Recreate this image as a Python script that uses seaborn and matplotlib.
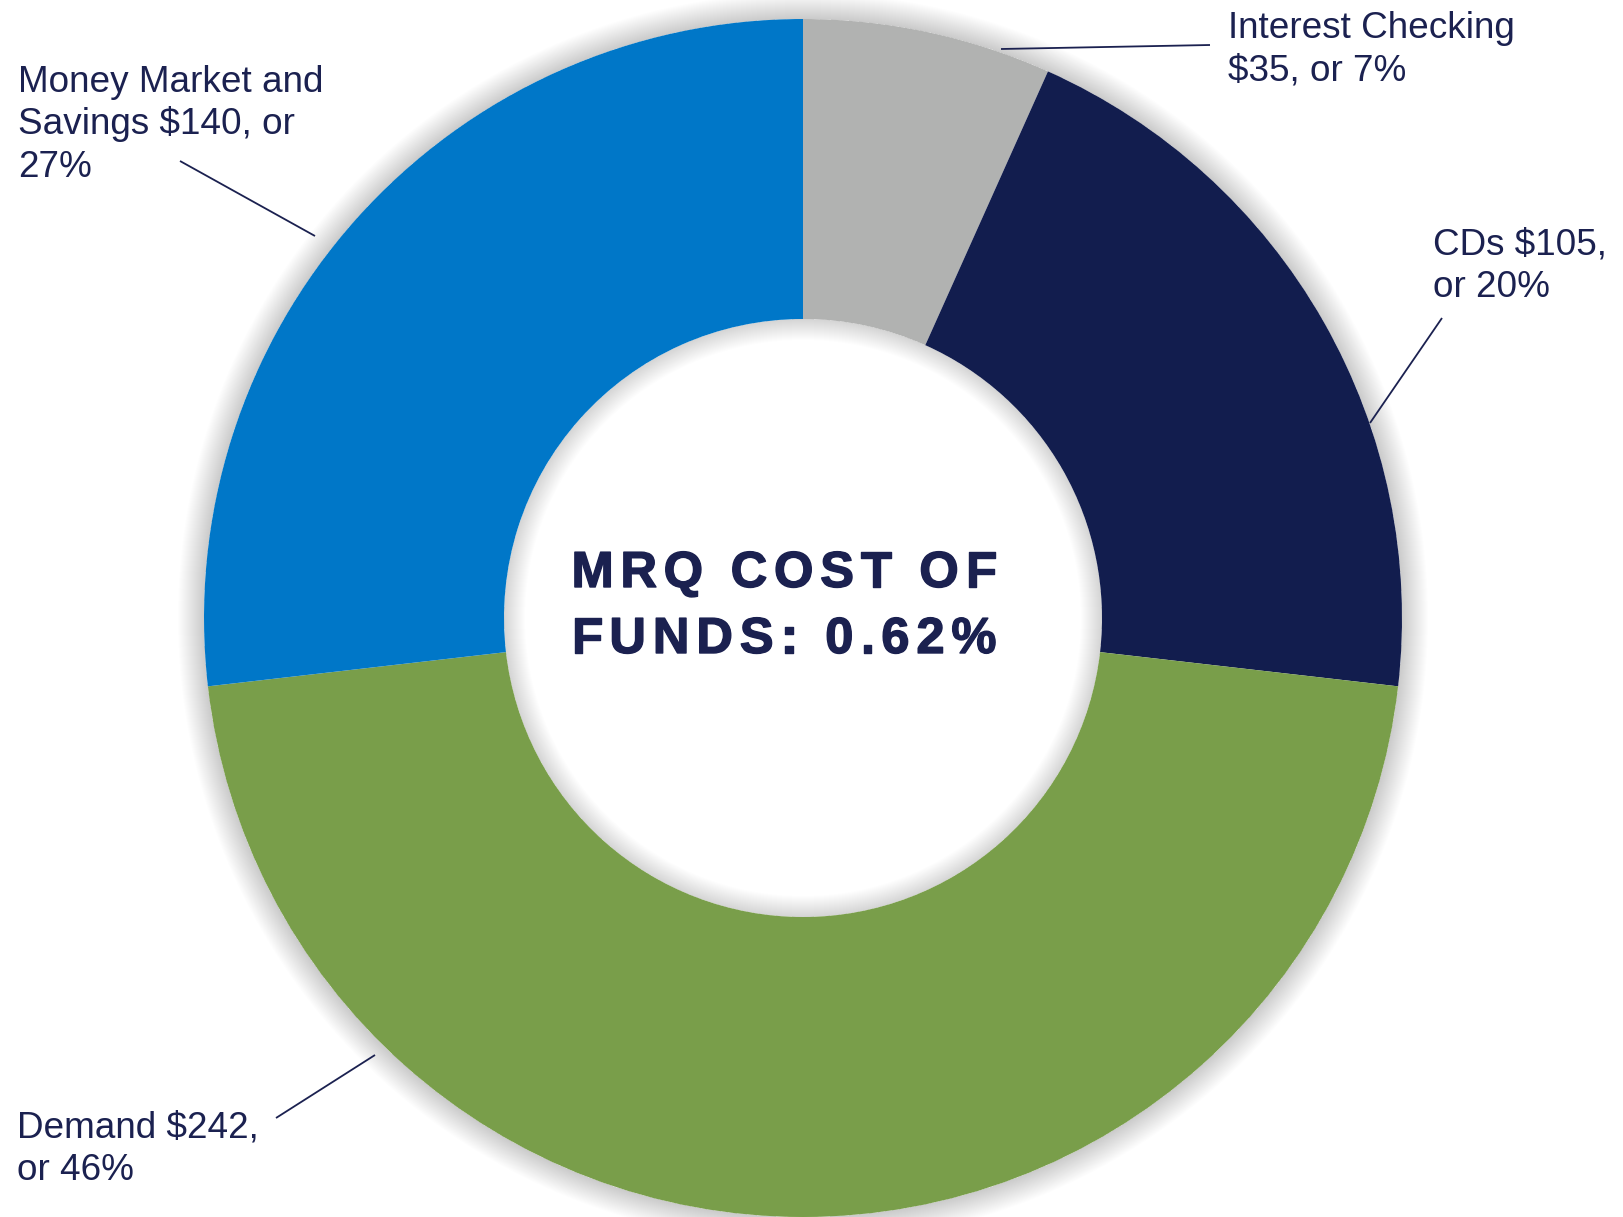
import matplotlib
matplotlib.use("Agg")
import matplotlib.pyplot as plt
import seaborn as sns
from matplotlib.patches import Wedge
from matplotlib.font_manager import FontProperties
import matplotlib.patheffects as pe

# ---- data ----
categories = ["Interest Checking", "CDs", "Demand", "Money Market and Savings"]
values = [35, 105, 242, 140]
percents = [7, 20, 46, 27]
label_lines = [
    ["Interest Checking", "$35, or 7%"],
    ["CDs $105,", "or 20%"],
    ["Demand $242,", "or 46%"],
    ["Money Market and", "Savings $140, or", "27%"],
]
slice_colors = ["#B1B2B1", "#121D4E", "#799E4A", "#0077C8"]
center_lines = ["MRQ COST OF", "FUNDS: 0.62%"]

# ---- style ----
sns.set_theme(style="white")
plt.rcParams["font.family"] = ["Liberation Sans", "DejaVu Sans"]
palette = sns.color_palette(slice_colors)
TEXT = "#1B2150"

W, H = 1624, 1217
fig = plt.figure(figsize=(W / 100, H / 100), dpi=100)
ax = fig.add_axes([0, 0, 1, 1])

def py(y):  # pixel-from-top -> data y
    return H - y

cx, cy = 803, py(618)
R, RIN = 599, 299

# soft shadow around ring
for k in range(1, 27):
    ax.add_patch(Wedge((cx, cy), R + k, 0, 360, width=k, facecolor="black",
                       edgecolor="none", alpha=0.009, zorder=0))
for k in range(1, 22):
    ax.add_patch(Wedge((cx, cy), RIN, 0, 360, width=k, facecolor="black",
                       edgecolor="none", alpha=0.006, zorder=0))

wedges, _ = ax.pie(values, colors=palette, startangle=90, counterclock=False,
                   radius=R, center=(cx, cy),
                   wedgeprops=dict(width=R - RIN, edgecolor="none", linewidth=0))
for wdg in wedges:
    wdg.set_zorder(2)

# ---- labels (left x, first baseline y in px from top) ----
label_pos = [(1228, 38), (1433, 255), (17, 1138), (18, 92)]
line_step = 42.5
for lines, (lx, ly) in zip(label_lines, label_pos):
    for i, ln in enumerate(lines):
        ax.text(lx, py(ly + i * line_step), ln, ha="left", va="baseline",
                fontsize=26.6, color=TEXT, zorder=5)

# leader lines (px from top)
leaders = [((1001, 49), (1210, 45)),
           ((1442, 318), (1370, 423)),
           ((276, 1118), (375, 1055)),
           ((180, 161), (315, 236))]
for (x1, y1), (x2, y2) in leaders:
    ax.plot([x1, x2], [py(y1), py(y2)], color=TEXT, lw=1.3, zorder=4,
            solid_capstyle="butt")

# ---- center text with letter spacing ----
fig.canvas.draw()
renderer = fig.canvas.get_renderer()
fp = FontProperties(family="Liberation Sans", weight="bold", size=36.5)

def tw(s):
    w, h, d = renderer.get_text_width_height_descent(s, fp, ismath=False)
    return w

center_x = 784
target_w = 425
baselines = [587, 653]
for line, bl in zip(center_lines, baselines):
    n = len(line)
    sp = (target_w - tw(line)) / (n - 1)
    x0 = center_x - target_w / 2
    for i, ch in enumerate(line):
        if ch == " ":
            continue
        off = tw(line[:i + 1]) - tw(ch) + i * sp
        ax.text(x0 + off, py(bl), ch, fontproperties=fp, color=TEXT,
                ha="left", va="baseline", zorder=6,
                path_effects=[pe.withStroke(linewidth=1.0, foreground=TEXT)])

ax.set_xlim(0, W)
ax.set_ylim(0, H)
ax.set_aspect("equal")
ax.axis("off")
fig.savefig("out.png", dpi=100, facecolor="white")
